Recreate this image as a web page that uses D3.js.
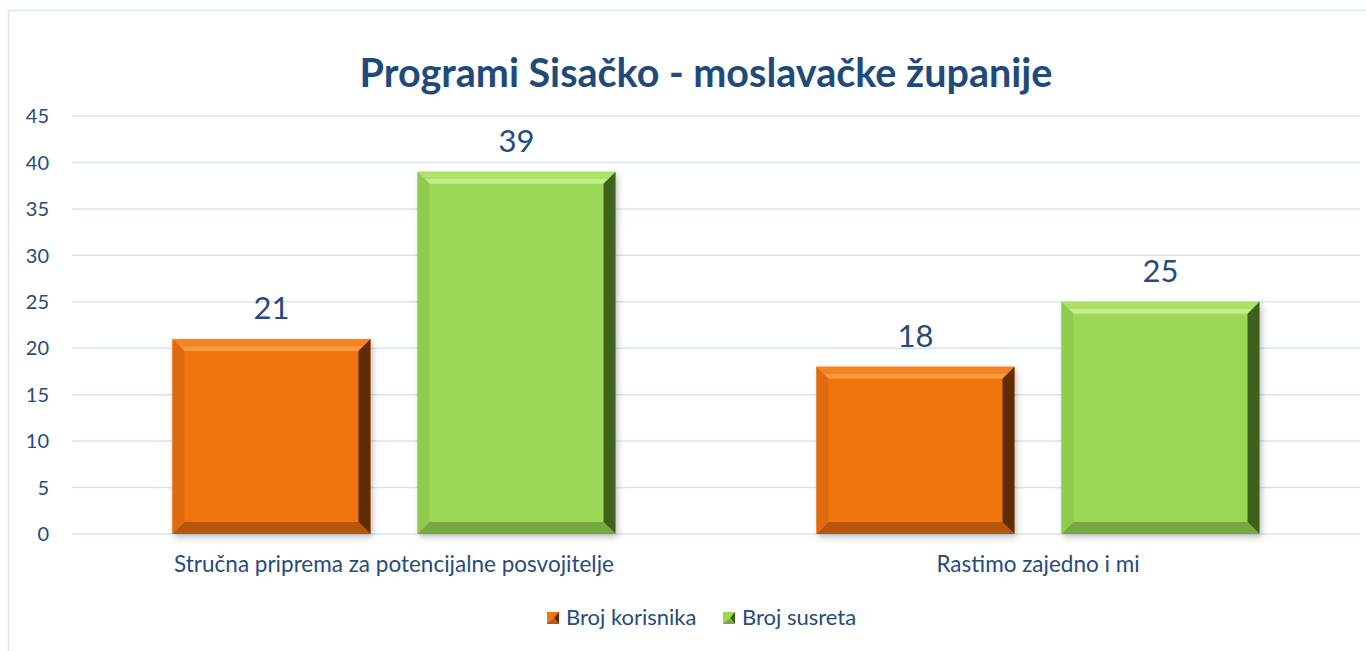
<!DOCTYPE html>
<html>
<head>
<meta charset="utf-8">
<script src="https://cdn.jsdelivr.net/npm/d3@7"></script>
<style>
body{margin:0;background:#fff;}
svg{display:block;font-family:Lato,"Open Sans",sans-serif;}
</style>
</head>
<body>
<svg id="chart"></svg>
<script>
var categories=["Stručna priprema za potencijalne posvojitelje","Rastimo zajedno i mi"]
var seriesNames=["Broj korisnika","Broj susreta"]
var brojKorisnika=[21,18]
var brojSusreta=[39,25]
var yTicks=[0,5,10,15,20,25,30,35,40,45]

var screen={width:1366,height:651}
var margins={top:116,bottom:117,left:72,right:6}
var textColor="#264b7c"
var fills=[
    {base:"#f07410",light:"#f99a3e",dark:"#5e2c06",mid:"#b6560b",left:"#e06a0e"},
    {base:"#9cd857",light:"#c3ee8c",dark:"#3f621a",mid:"#75a83f",left:"#8fcc4e"}
]

var svg=d3.select("#chart")
    .attr("width",screen.width)
    .attr("height",screen.height)

//outer frame
svg.append("rect")
    .attr("x",8.5).attr("y",10.5)
    .attr("width",1366).attr("height",660)
    .attr("fill","none")
    .attr("stroke","#d6e3f3")
    .attr("stroke-width",1.5)

var xScale=d3.scaleBand()
    .domain(categories)
    .range([margins.left,screen.width-margins.right])
var x1=d3.scaleBand()
    .domain(seriesNames)
    .range([0,xScale.bandwidth()])
    .paddingInner(0.192)
    .paddingOuter(0.41)
var yScale=d3.scaleLinear()
    .domain([0,45])
    .range([screen.height-margins.bottom,margins.top])

//gridlines
svg.append("g")
    .selectAll("line")
    .data(yTicks)
    .enter()
    .append("line")
    .attr("x1",margins.left)
    .attr("x2",screen.width-margins.right)
    .attr("y1",function(d){return yScale(d)})
    .attr("y2",function(d){return yScale(d)})
    .attr("stroke","#d9e4f2")
    .attr("stroke-width",1.5)

//y labels
svg.append("g")
    .selectAll("text")
    .data(yTicks)
    .enter()
    .append("text")
    .attr("x",49)
    .attr("y",function(d){return yScale(d)})
    .attr("dy","0.36em")
    .attr("text-anchor","end")
    .attr("fill",textColor)
    .style("font-size","20px")
    .text(function(d){return d})

svg.append("text")
    .attr("x",706)
    .attr("y",87)
    .attr("text-anchor","middle")
    .attr("fill","#1f4a7c")
    .style("font-size","39.5px")
    .style("font-weight","bold")
    .text("Programi Sisačko - moslavačke županije")

var defs=svg.append("defs")
var shadow=defs.append("filter").attr("id","shadow")
    .attr("x","-10%").attr("y","-10%").attr("width","130%").attr("height","130%")
shadow.append("feDropShadow")
    .attr("dx",2).attr("dy",3).attr("stdDeviation",3)
    .attr("flood-color","#000").attr("flood-opacity",0.25)

var rows=[]
categories.forEach(function(c,i){
    rows.push({cat:c,s:0,v:brojKorisnika[i]})
    rows.push({cat:c,s:1,v:brojSusreta[i]})
})

var bevel=12
var bars=svg.append("g")
    .selectAll("g")
    .data(rows)
    .enter()
    .append("g")
    .attr("transform",function(d){
        return "translate("+(xScale(d.cat)+x1(seriesNames[d.s]))+","+yScale(d.v)+")"
    })

bars.each(function(d){
    var g=d3.select(this)
    var w=x1.bandwidth()
    var h=yScale(0)-yScale(d.v)
    var f=fills[d.s]
    var b=bevel
    g.append("rect").attr("width",w).attr("height",h)
        .attr("fill",f.base).attr("filter","url(#shadow)")
    //top facet
    g.append("path").attr("d","M0,0L"+w+",0L"+(w-b)+","+b+"L"+b+","+b+"Z")
        .attr("fill",f.light)
    g.append("path").attr("d","M0,0L"+w+",0L"+(w-b*0.6)+","+(b*0.6)+"L"+(b*0.6)+","+(b*0.6)+"Z")
        .attr("fill",f.base).attr("opacity",0.6)
    //right facet
    g.append("path").attr("d","M"+w+",0L"+w+","+h+"L"+(w-b)+","+(h-b)+"L"+(w-b)+","+b+"Z")
        .attr("fill",f.dark)
    //bottom facet
    g.append("path").attr("d","M0,"+h+"L"+w+","+h+"L"+(w-b)+","+(h-b)+"L"+b+","+(h-b)+"Z")
        .attr("fill",f.mid)
    //left facet
    g.append("path").attr("d","M0,0L"+b+","+b+"L"+b+","+(h-b)+"L0,"+h+"Z")
        .attr("fill",f.left)
    g.append("text")
        .attr("x",w/2).attr("y",-20)
        .attr("text-anchor","middle")
        .attr("fill",textColor)
        .style("font-size","31px")
        .text(d.v)
})

//category labels
svg.append("g")
    .selectAll("text")
    .data(categories)
    .enter()
    .append("text")
    .attr("x",function(d){return xScale(d)+xScale.bandwidth()/2})
    .attr("y",572)
    .attr("text-anchor","middle")
    .attr("fill",textColor)
    .style("font-size","22.5px")
    .text(function(d){return d})

//legend
var legend=svg.append("g")
var lx=[547,723]
seriesNames.forEach(function(n,i){
    var f=fills[i]
    var gx=lx[i], gy=612
    legend.append("rect").attr("x",gx).attr("y",gy).attr("width",12).attr("height",12).attr("fill",f.base)
    legend.append("path").attr("d","M"+(gx+12)+","+gy+"L"+(gx+12)+","+(gy+12)+"L"+(gx+7)+","+(gy+6)+"Z").attr("fill",f.dark)
    legend.append("path").attr("d","M"+gx+","+(gy+12)+"L"+(gx+12)+","+(gy+12)+"L"+(gx+6)+","+(gy+7)+"Z").attr("fill",f.mid)
    legend.append("text").attr("x",gx+19).attr("y",gy+13)
        .attr("fill",textColor)
        .style("font-size","22px")
        .text(n)
})
</script>
</body>
</html>
